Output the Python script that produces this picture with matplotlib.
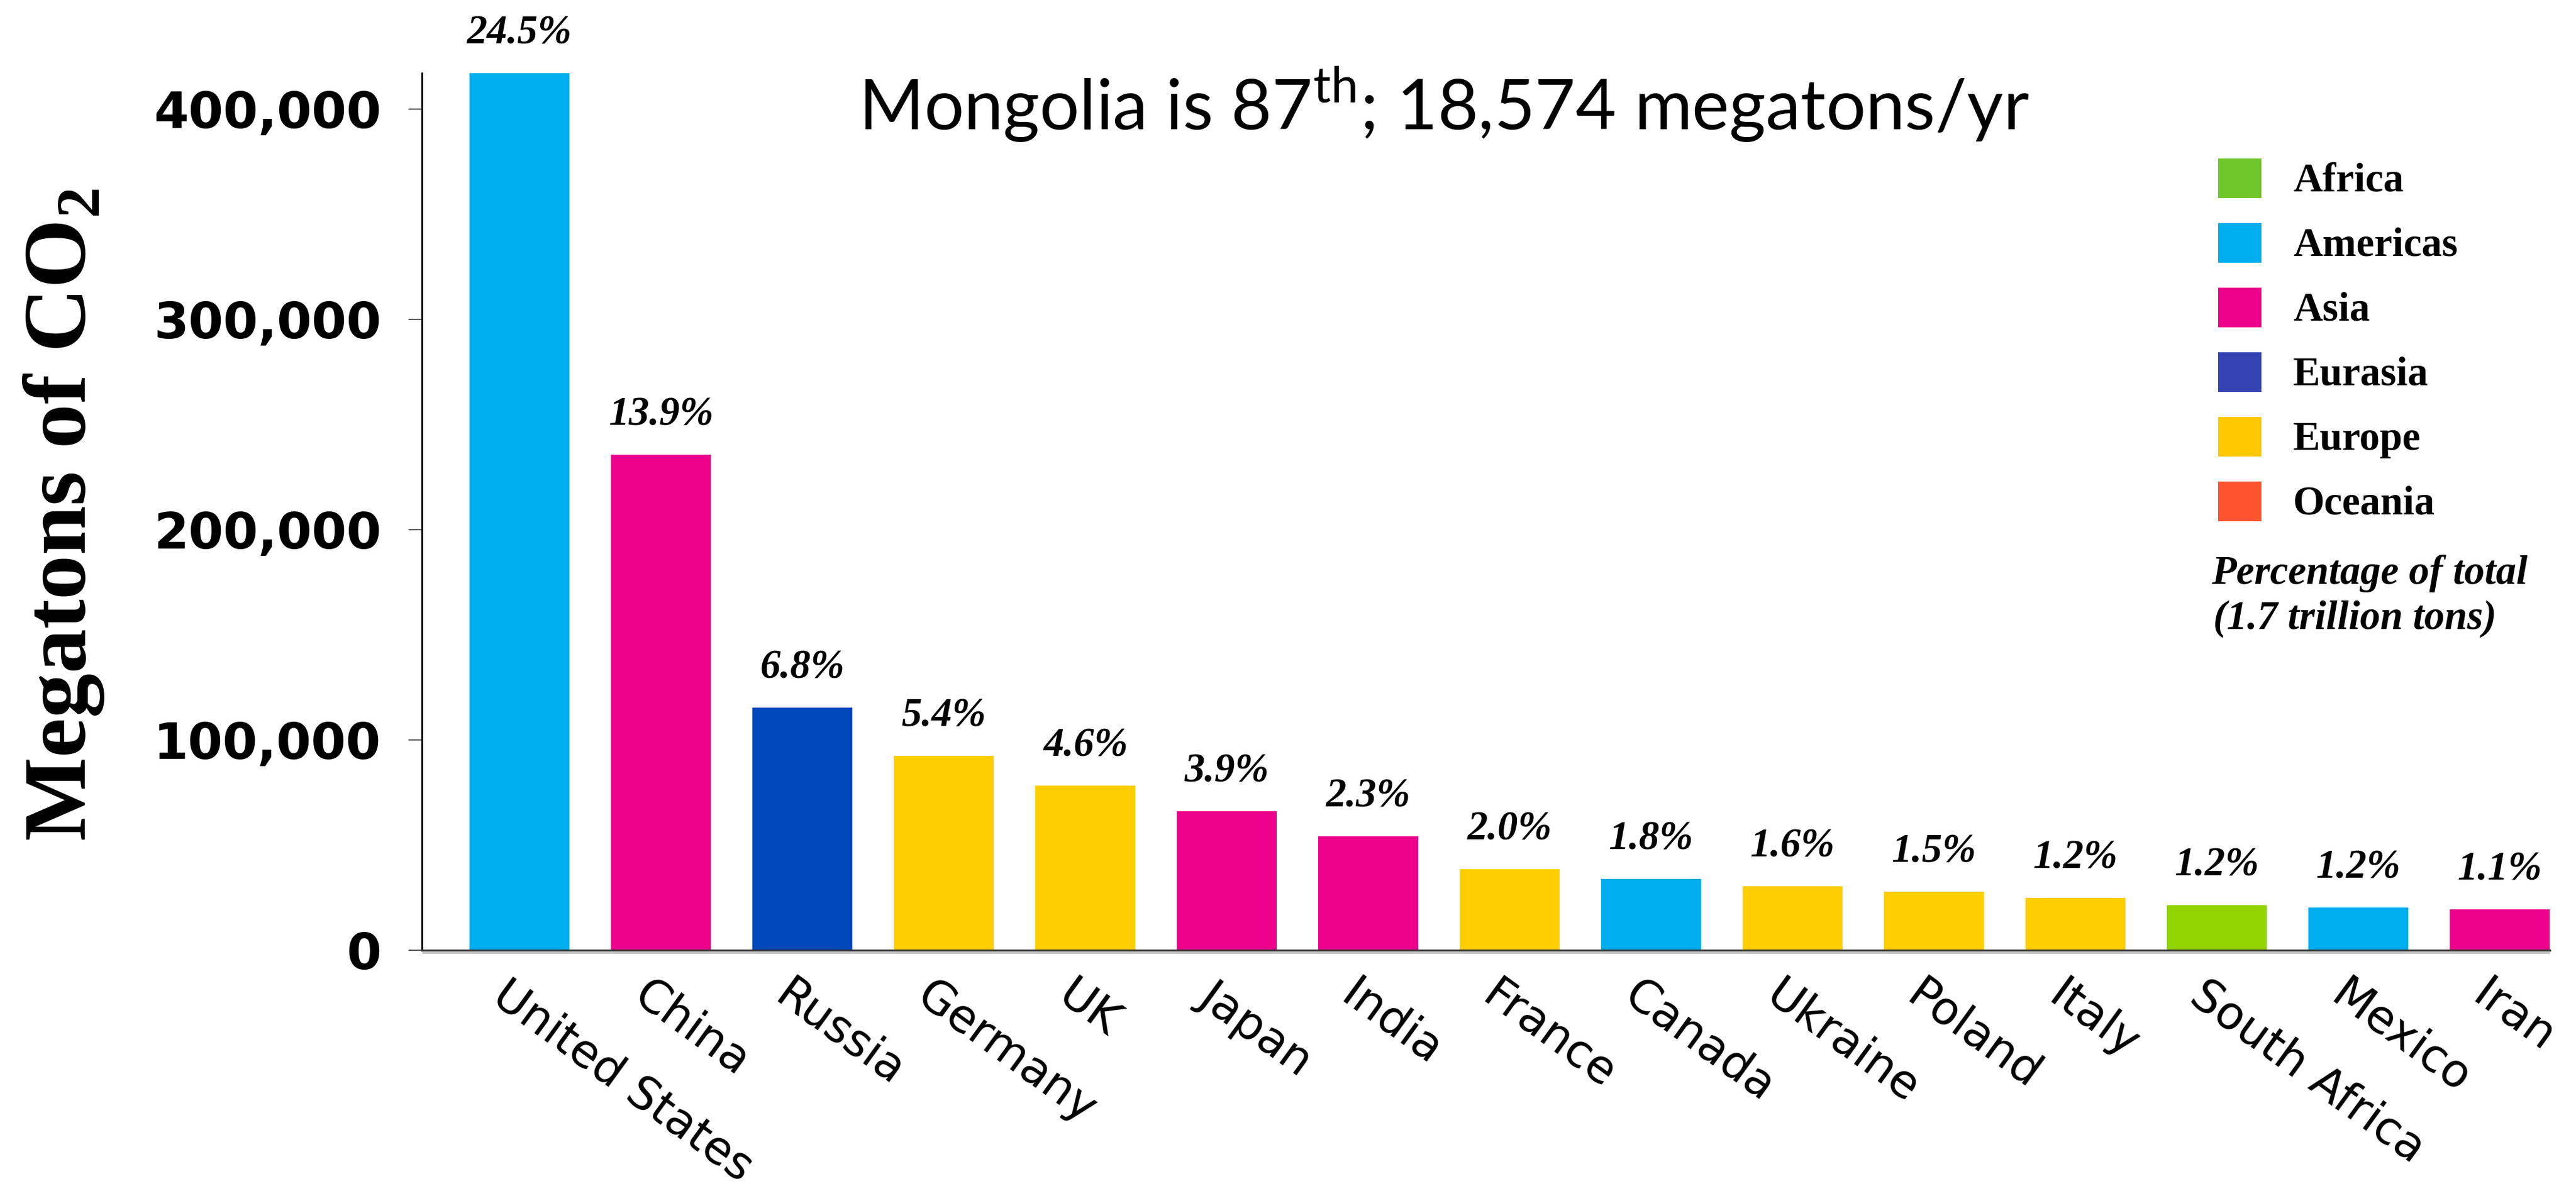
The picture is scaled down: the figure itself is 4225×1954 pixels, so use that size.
import matplotlib
matplotlib.use('Agg')
import matplotlib.pyplot as plt
import matplotlib.transforms as mtransforms
from matplotlib.patches import Rectangle
from matplotlib.ticker import FuncFormatter

# data
countries = ['United States', 'China', 'Russia', 'Germany', 'UK', 'Japan', 'India',
             'France', 'Canada', 'Ukraine', 'Poland', 'Italy', 'South Africa', 'Mexico', 'Iran']
megatons = [417000, 235500, 115200, 92300, 78100, 66000, 54200,
            38500, 34000, 30400, 27800, 24900, 21300, 20200, 19300]
share_pct = [24.5, 13.9, 6.8, 5.4, 4.6, 3.9, 2.3, 2.0, 1.8, 1.6, 1.5, 1.2, 1.2, 1.2, 1.1]
regions = ['Americas', 'Asia', 'Eurasia', 'Europe', 'Europe', 'Asia', 'Asia',
           'Europe', 'Americas', 'Europe', 'Europe', 'Europe', 'Africa', 'Americas', 'Asia']
legend_regions = ['Africa', 'Americas', 'Asia', 'Eurasia', 'Europe', 'Oceania']
y_ticks = [0, 100000, 200000, 300000, 400000]

bar_colors = {'Africa': '#92D400', 'Americas': '#00AEEF', 'Asia': '#EC008C',
              'Eurasia': '#0047BB', 'Europe': '#FFCE00', 'Oceania': '#FF5330'}
legend_colors = {'Africa': '#70C72C', 'Americas': '#00AEEF', 'Asia': '#EC008C',
                 'Eurasia': '#3344B2', 'Europe': '#FFC800', 'Oceania': '#FF5330'}

plt.rcParams['mathtext.fontset'] = 'custom'
plt.rcParams['mathtext.rm'] = 'Lato'
plt.rcParams['mathtext.bf'] = 'Liberation Serif:bold'

W, H = 4225, 1954
fig = plt.figure(figsize=(W / 100, H / 100), dpi=100)


def fx(px):
    return px / W


def fy(py):
    return 1 - py / H


ax = fig.add_axes([fx(692), fy(1559), fx(4182) - fx(692), fy(120) - fy(1559)])

x = list(range(len(countries)))
ax.bar(x, megatons, width=0.705, color=[bar_colors[r] for r in regions], zorder=2)
ax.set_xlim(-0.69, 14.353)
ax.set_ylim(0, 417000)

for s in ['top', 'right']:
    ax.spines[s].set_visible(False)
ax.spines['left'].set_linewidth(2.2)
ax.spines['left'].set_color('black')
ax.spines['bottom'].set_linewidth(2.4)
ax.spines['bottom'].set_color('#333333')
ax.spines['bottom'].set_zorder(3)

# light grey shadow under the x axis line
shadow = mtransforms.offset_copy(ax.get_xaxis_transform(), fig=fig, y=-3.5, units='dots')
ax.plot([-0.69, 14.353], [0, 0], transform=shadow, color='#bdbdbd', lw=2,
        clip_on=False, solid_capstyle='butt')

ax.set_yticks(y_ticks)
ax.yaxis.set_major_formatter(FuncFormatter(lambda v, p: f'{v:,.0f}'))
ax.tick_params(axis='y', length=16, width=1.5, color='#555555', pad=32, labelsize=59)
for lbl in ax.get_yticklabels():
    lbl.set_fontweight('bold')
    lbl.set_family('DejaVu Sans')

ax.set_xticks(x)
ax.set_xticklabels(countries, rotation=-36, ha='left', va='top',
                   rotation_mode='anchor', fontsize=54, family='DejaVu Sans')
ax.tick_params(axis='x', length=0, pad=27)
shift = mtransforms.ScaledTranslation(-15 / 100, 0, fig.dpi_scale_trans)
for lbl in ax.get_xticklabels():
    lbl.set_transform(lbl.get_transform() + shift)

# percentage of total above each bar
for xi, v, p in zip(x, megatons, share_pct):
    ax.annotate(f'{p:.1f}%', (xi, v), xytext=(0, 35), textcoords='offset points',
                ha='center', va='baseline', fontsize=48, family='Liberation Serif',
                weight='bold', style='italic', annotation_clip=False)

fig.text(fx(105), 0.568, r'Megatons of CO$_{\mathbf{2}}$', rotation=90,
         ha='center', va='center', fontsize=105, family='Liberation Serif', weight='bold')

fig.text(fx(2368), fy(213), r'Mongolia is 87$^{\mathrm{th}}$; 18,574 megatons/yr',
         ha='center', va='baseline', fontsize=83, family='Lato')

# legend
for i, reg in enumerate(legend_regions):
    yc = 292.5 + 106 * i
    fig.add_artist(Rectangle((fx(3638), fy(yc + 32.5)), fx(71), 65 / H,
                             transform=fig.transFigure, color=legend_colors[reg], lw=0))
    fig.text(fx(3761), fy(yc + 21), reg, va='baseline', ha='left', fontsize=48,
             family='Liberation Serif', weight='bold')

fig.text(fx(3627), fy(958), 'Percentage of total', va='baseline', ha='left', fontsize=48,
         family='Liberation Serif', weight='bold', style='italic')
fig.text(fx(3630), fy(1032), '(1.7 trillion tons)', va='baseline', ha='left', fontsize=48,
         family='Liberation Serif', weight='bold', style='italic')

fig.savefig('out.png', dpi=100)
